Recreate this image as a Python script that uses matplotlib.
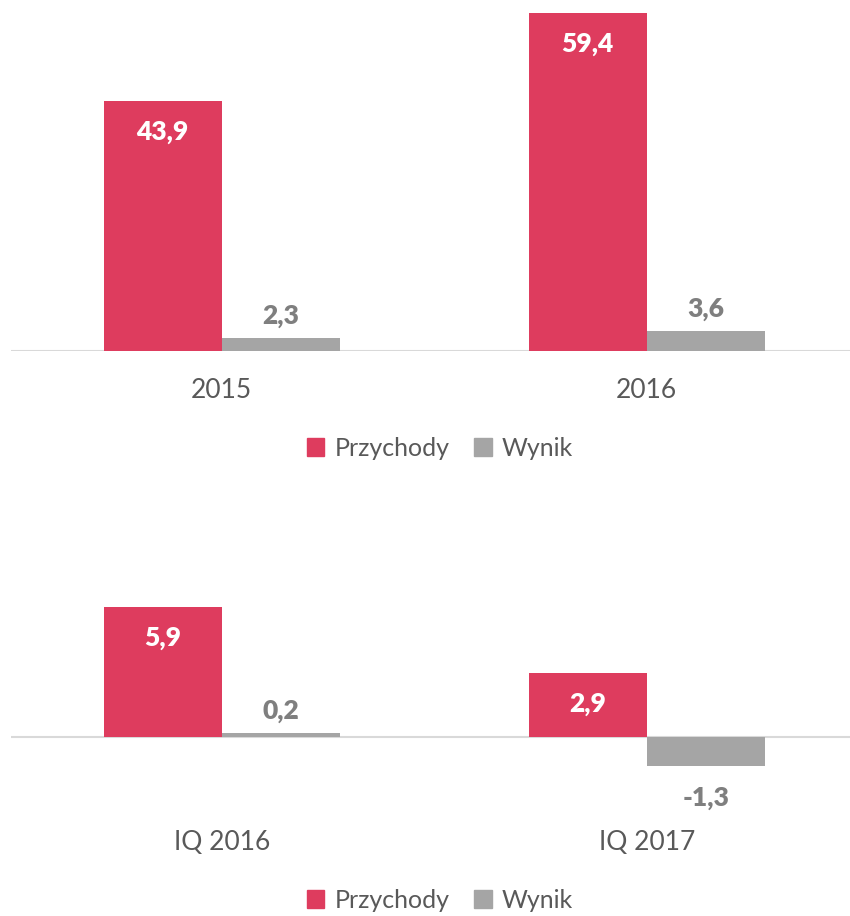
import matplotlib.pyplot as plt
import numpy as np
from matplotlib.patches import Patch

plt.rcParams['font.family'] = ['Lato', 'DejaVu Sans']

# top chart: yearly
years = ['2015', '2016']
przychody_y = [43.9, 59.4]
wynik_y = [2.3, 3.6]

# bottom chart: first quarter
quarters = ['IQ 2016', 'IQ 2017']
przychody_q = [5.9, 2.9]
wynik_q = [0.2, -1.3]

red = '#DE3C5E'
grey = '#A5A5A5'
W, H = 850, 916

fig = plt.figure(figsize=(W / 100, H / 100), dpi=100)


def fmt(v):
    return ('%.1f' % v).replace('.', ',')


def make_axes(base_px, px_per_unit, ymin, ymax):
    # place axes so the zero line lands at base_px (from top)
    top_px = base_px - ymax * px_per_unit
    bot_px = base_px - ymin * px_per_unit
    ax = fig.add_axes([11 / W, 1 - bot_px / H, 839 / W, (bot_px - top_px) / H])
    ax.set_ylim(ymin, ymax)
    ax.set_xlim(-0.496, 1.478)
    return ax


def draw(ax, cats, rev, res, px_per_unit, label_y_px, legend_y_px):
    x = np.arange(len(cats))
    w = 0.278
    ax.bar(x - w / 2, rev, w, color=red, zorder=2)
    ax.bar(x + w / 2, res, w, color=grey, zorder=2)
    ax.axhline(0, color='#D9D9D9', lw=1.5, zorder=1)
    for i in range(len(cats)):
        ax.text(x[i] - w / 2, rev[i] - 31 / px_per_unit, fmt(rev[i]), ha='center', va='center',
                color='white', fontsize=19, fontweight='heavy')
        if res[i] >= 0:
            yy = res[i] + 22 / px_per_unit
        else:
            yy = res[i] - 32 / px_per_unit
        ax.text(x[i] + w / 2, yy, fmt(res[i]), ha='center', va='center',
                color='#7F7F7F', fontsize=19, fontweight='heavy')
    for s in ax.spines.values():
        s.set_visible(False)
    ax.set_yticks([])
    ax.set_xticks([])
    for i, c in enumerate(cats):
        fig.text((11 + (x[i] + 0.496) * 425) / W, 1 - label_y_px / H, c, ha='center', va='center',
                 color='#595959', fontsize=19)
    handles = [Patch(color=red, label='Przychody'), Patch(color=grey, label='Wynik')]
    fig.legend(handles=handles, loc='center', bbox_to_anchor=(440 / W, 1 - legend_y_px / H),
               ncol=2, frameon=False, fontsize=18, labelcolor='#595959',
               handlelength=0.7, handleheight=0.7, handletextpad=0.4, columnspacing=1.0)


ax1 = make_axes(351, 5.69, 0, 60)
draw(ax1, years, przychody_y, wynik_y, 5.69, 390, 448)

ax2 = make_axes(737, 22.0, -2.5, 7)
draw(ax2, quarters, przychody_q, wynik_q, 22.0, 843, 900)

plt.savefig('out.png', dpi=100)
